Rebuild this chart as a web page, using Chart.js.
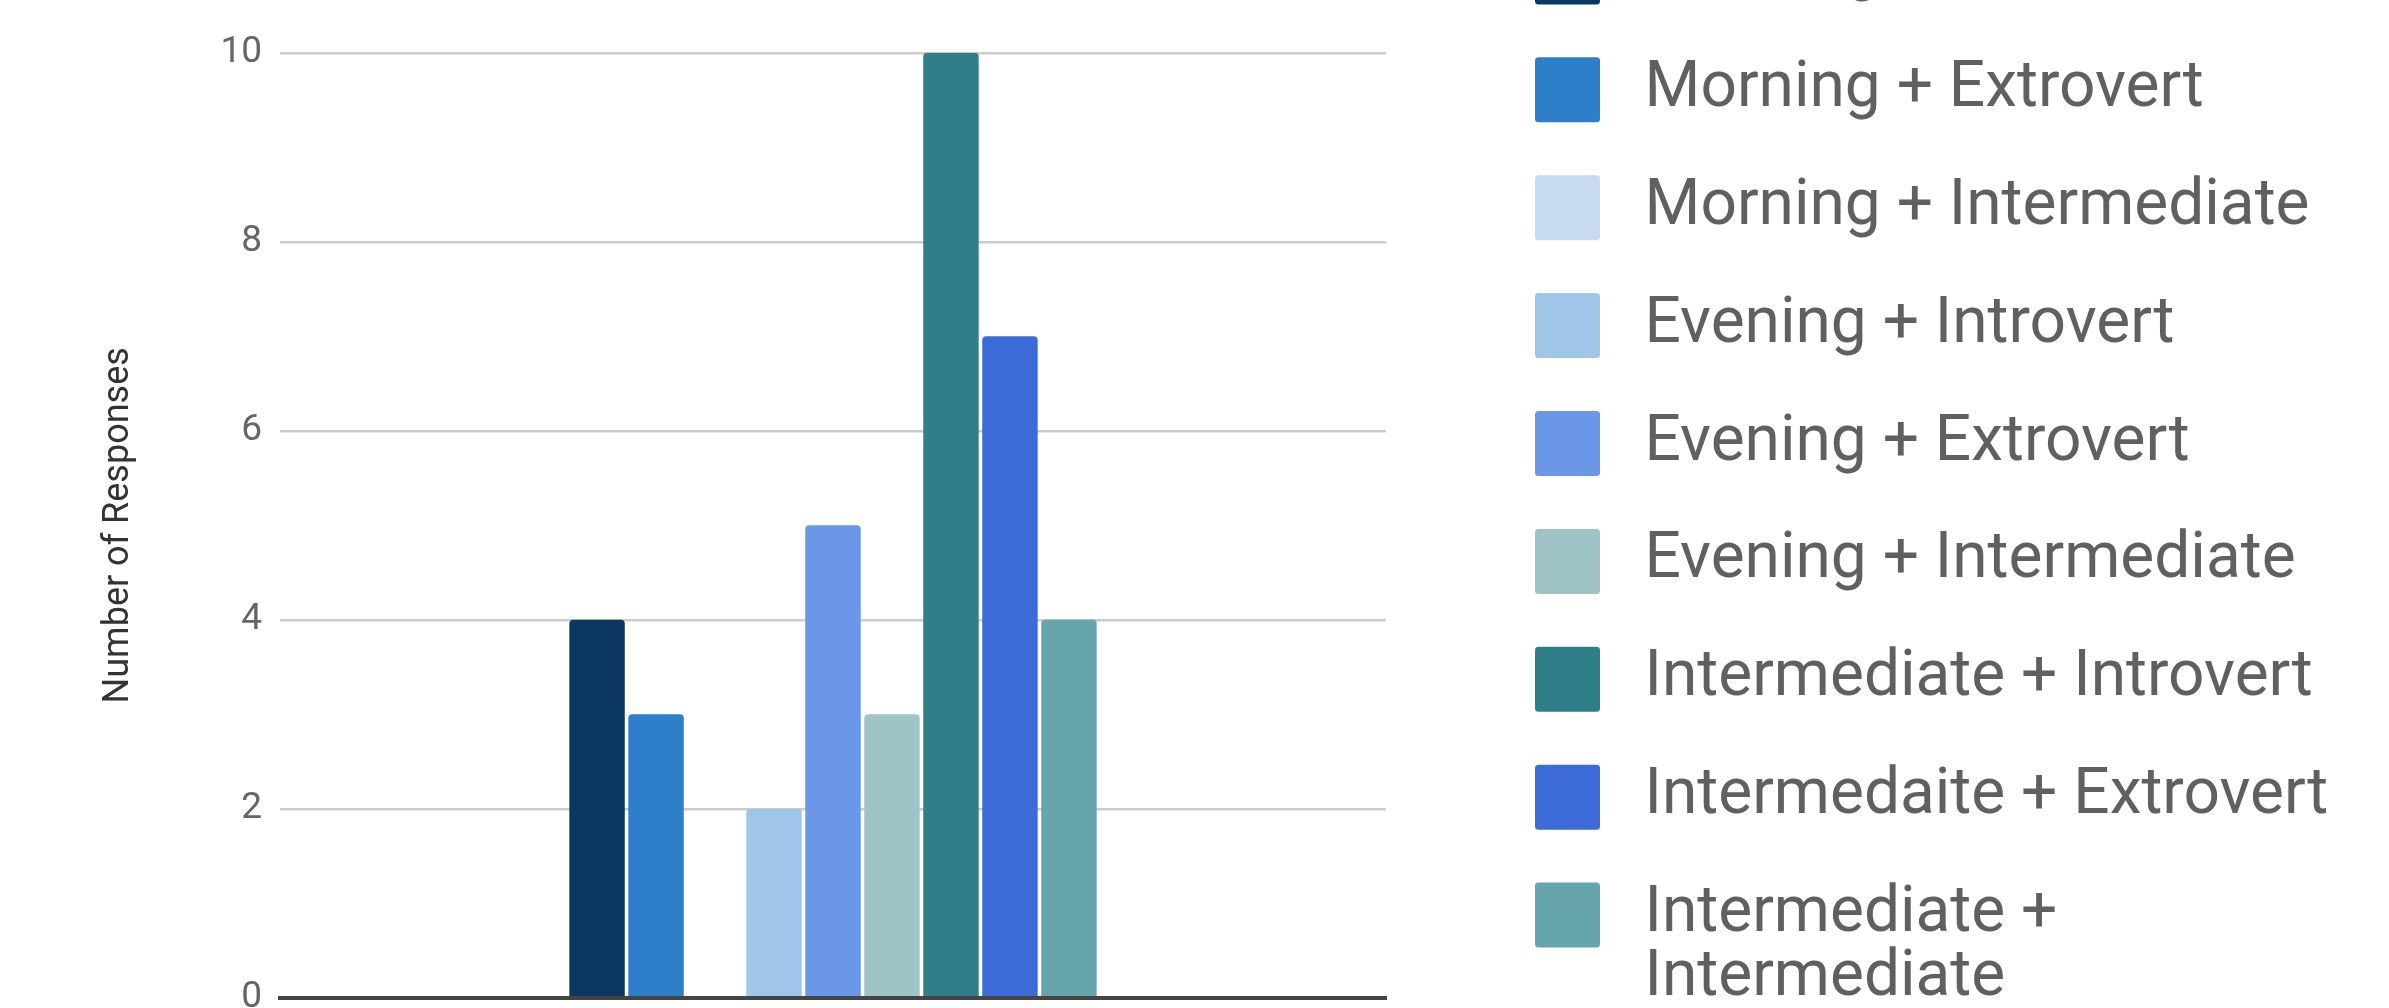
<!DOCTYPE html>
<html>
<head>
<meta charset="utf-8">
<script src="https://cdn.jsdelivr.net/npm/chart.js@4.4.1/dist/chart.umd.min.js"></script>
<style>
  html, body { margin: 0; padding: 0; background: #fff; overflow: hidden; width: 2389px; height: 1008px; }
  #wrap { position: absolute; left: 0; top: -100.8px; width: 2389px; height: 1300px; }
</style>
</head>
<body>
<div id="wrap"><canvas id="mainChart"></canvas></div>
<script>
const categories = [''];
const seriesNames = [
  'Morning + Introvert',
  'Morning + Extrovert',
  'Morning + Intermediate',
  'Evening + Introvert',
  'Evening + Extrovert',
  'Evening + Intermediate',
  'Intermediate + Introvert',
  'Intermedaite + Extrovert',
  ['Intermediate +', 'Intermediate']
];
const seriesValues = [4, 3, 0, 2, 5, 3, 10, 7, 4];
const seriesColors = ['#0b3763', '#2e7fca', '#c6dbf2', '#9fc5e8', '#6b98e6', '#9fc4c8', '#2f7f8a', '#3c6bd7', '#66a5ab'];
const yTickValues = [0, 2, 4, 6, 8, 10];
const yTitle = 'Number of Responses';

Chart.defaults.font.family = 'Roboto';

const legendFontSize = 64,
      legendBox = 90,
      legendPad = 27.9,
      legendLeft = 1494.6;

// legend width as chart.js computes it, so the right padding can put it where it belongs
let legendWidth = () => {
  let mctx = document.createElement('canvas').getContext('2d');
  mctx.font = 'normal ' + legendFontSize + 'px Roboto';
  let maxText = 0;
  seriesNames.forEach(n => {
    let t = typeof n === 'string' ? n : n.reduce((a, b) => a.length > b.length ? a : b);
    maxText = Math.max(maxText, mctx.measureText(t).width);
  });
  return legendPad + legendBox + legendFontSize / 2 + maxText + 10;
};

let init = () => {
  let ctx = document.getElementById('mainChart').getContext('2d'),
      padRight = 2389 - legendLeft - legendWidth();

  let datasets = seriesNames.map((name, i) => ({
    label: name,
    data: [seriesValues[i]],
    backgroundColor: seriesColors[i],
    borderWidth: 0,
    borderRadius: 4,
    barPercentage: 0.94,
    categoryPercentage: 0.48
  }));

  new Chart(ctx, {
    type: 'bar',
    data: { labels: categories, datasets: datasets },
    options: {
      responsive: true,
      maintainAspectRatio: false,
      animation: false,
      devicePixelRatio: 1,
      layout: { padding: { left: 0, top: 0, bottom: 0, right: padRight } },
      plugins: {
        tooltip: { enabled: false },
        title: {
          display: true, text: '', fullSize: false,
          padding: { top: 141.8, bottom: 0 },
          font: { size: 10, lineHeight: 1.2 }
        },
        subtitle: {
          display: true, text: '', position: 'bottom', fullSize: false,
          padding: { top: 189.2, bottom: 0 },
          font: { size: 10, lineHeight: 1.2 }
        },
        legend: {
          position: 'right',
          align: 'start',
          maxWidth: 2000,
          labels: {
            boxWidth: legendBox,
            boxHeight: legendBox,
            padding: legendPad,
            color: '#606060',
            font: { size: legendFontSize, lineHeight: 1 },
            useBorderRadius: true,
            borderRadius: 16,
            generateLabels: (chart) => {
              let items = Chart.defaults.plugins.legend.labels.generateLabels(chart);
              items.forEach(it => { it.lineWidth = 25; it.strokeStyle = '#ffffff'; });
              return items;
            }
          }
        }
      },
      scales: {
        x: {
          display: true,
          ticks: { display: false },
          grid: { display: false, drawTicks: false },
          border: { display: true, color: '#444444', width: 4, z: 1 }
        },
        y: {
          min: 0,
          max: 10,
          afterBuildTicks: (scale) => { scale.ticks = yTickValues.map(v => ({ value: v })); },
          afterFit: (scale) => { scale.width = 280; },
          ticks: { padding: 18, color: '#666666', font: { size: 37 } },
          grid: { color: '#cccccc', lineWidth: 2.5, drawTicks: false },
          border: { display: false },
          title: {
            display: true,
            text: yTitle,
            color: '#333333',
            font: { size: 36, lineHeight: 1.2 },
            padding: { top: 97, bottom: 0 }
          }
        },
        y2: {
          type: 'linear',
          position: 'right',
          display: true,
          ticks: { display: false },
          grid: { display: false, drawTicks: false },
          border: { display: false },
          afterFit: (scale) => { scale.width = 108.6; }
        }
      }
    }
  });
};

init();
</script>
</body>
</html>
